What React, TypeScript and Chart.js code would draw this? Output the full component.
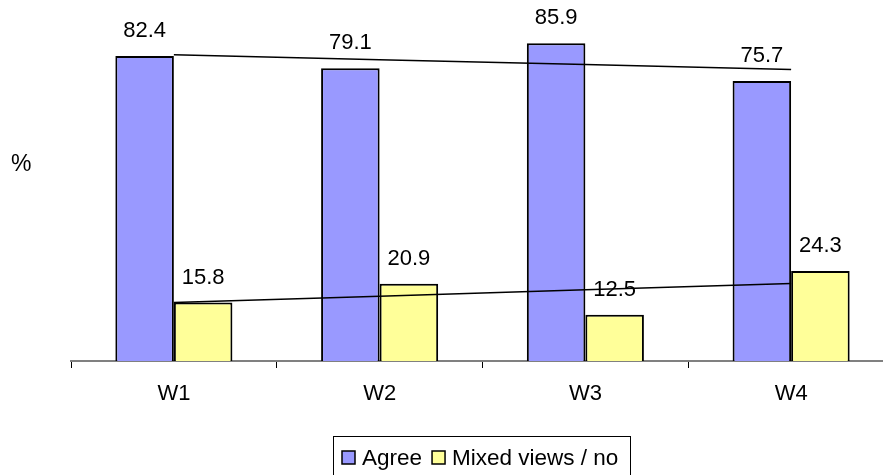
import React, { useEffect, useRef } from "react";
import { Chart, registerables } from "chart.js";

Chart.register(...registerables);

const categories = ["W1", "W2", "W3", "W4"];
const agreeValues = [82.4, 79.1, 85.9, 75.7];
const mixedValues = [15.8, 20.9, 12.5, 24.3];
const seriesNames = ["Agree", "Mixed views / no"];
const seriesColors = ["#9999FF", "#FFFF99"];
const yAxisTitle = "%";

const FONT = '"Liberation Sans", Arial, sans-serif';

// Least-squares linear trend over the category positions
function linearTrend(values: number[]): number[] {
  const n = values.length;
  const xs = values.map((_, i) => i + 1);
  const mx = xs.reduce((a, b) => a + b, 0) / n;
  const my = values.reduce((a, b) => a + b, 0) / n;
  let num = 0;
  let den = 0;
  xs.forEach((x, i) => {
    num += (x - mx) * (values[i] - my);
    den += (x - mx) * (x - mx);
  });
  const slope = num / den;
  return xs.map((x) => my + slope * (x - mx));
}

const valueLabels = {
  id: "valueLabels",
  afterDatasetsDraw(chart: any) {
    const ctx = chart.ctx;
    ctx.save();
    ctx.font = `22px ${FONT}`;
    ctx.fillStyle = "#000";
    ctx.textAlign = "center";
    ctx.textBaseline = "middle";
    chart.data.datasets.forEach((ds: any, i: number) => {
      if (ds.type !== "bar") return;
      const meta = chart.getDatasetMeta(i);
      meta.data.forEach((el: any, j: number) => {
        ctx.fillText(ds.data[j].toFixed(1), el.x, el.y - 25);
      });
    });
    ctx.restore();
  },
};

const sideTitleAndLegend = {
  id: "sideTitleAndLegend",
  afterDraw(chart: any) {
    const ctx = chart.ctx;
    ctx.save();
    ctx.fillStyle = "#000";
    ctx.font = `23px ${FONT}`;
    ctx.textAlign = "left";
    ctx.textBaseline = "middle";
    ctx.fillText(yAxisTitle, 11, 165);

    // Legend box, bottom edge runs past the canvas
    const boxLeft = 333.5;
    const boxTop = 436.5;
    const boxRight = 630.5;
    ctx.strokeStyle = "#000";
    ctx.lineWidth = 1;
    ctx.fillStyle = "#fff";
    ctx.fillRect(boxLeft, boxTop, boxRight - boxLeft, 60);
    ctx.strokeRect(boxLeft, boxTop, boxRight - boxLeft, 60);

    const rowY = 457.5;
    const swatch = 13;
    let x = 342;
    seriesNames.forEach((name, i) => {
      ctx.fillStyle = seriesColors[i];
      ctx.fillRect(x, rowY - swatch / 2, swatch, swatch);
      ctx.lineWidth = 1.5;
      ctx.strokeStyle = "#000";
      ctx.strokeRect(x, rowY - swatch / 2, swatch, swatch);
      ctx.fillStyle = "#000";
      ctx.font = `22.5px ${FONT}`;
      ctx.fillText(name, x + swatch + 7, rowY + 1);
      x += swatch + 7 + ctx.measureText(name).width + 10;
    });
    ctx.restore();
  },
};

export default function App() {
  const canvasRef = useRef<HTMLCanvasElement | null>(null);

  useEffect(() => {
    if (!canvasRef.current) return;
    const chart = new Chart(canvasRef.current, {
      type: "bar",
      data: {
        labels: categories,
        datasets: [
          {
            type: "bar",
            label: seriesNames[0],
            data: agreeValues,
            backgroundColor: seriesColors[0],
            borderColor: "#000",
            borderWidth: 2,
            order: 2,
          },
          {
            type: "bar",
            label: seriesNames[1],
            data: mixedValues,
            backgroundColor: seriesColors[1],
            borderColor: "#000",
            borderWidth: 2,
            order: 2,
          },
          {
            type: "line",
            label: "Agree trend",
            data: linearTrend(agreeValues),
            borderColor: "#000",
            borderWidth: 1.5,
            pointRadius: 0,
            fill: false,
            order: 1,
          },
          {
            type: "line",
            label: "Mixed trend",
            data: linearTrend(mixedValues),
            borderColor: "#000",
            borderWidth: 1.5,
            pointRadius: 0,
            fill: false,
            order: 1,
          },
        ] as any,
      },
      options: {
        responsive: false,
        devicePixelRatio: 1,
        animation: false,
        layout: { padding: { left: 71, right: 6, top: 28, bottom: 54 } },
        datasets: {
          bar: { categoryPercentage: 0.569, barPercentage: 1 },
        } as any,
        plugins: {
          legend: { display: false },
          tooltip: { enabled: false },
        },
        scales: {
          x: {
            offset: true,
            grid: {
              offset: true,
              drawOnChartArea: false,
              drawTicks: true,
              tickLength: 7,
              color: "#000",
              lineWidth: 1,
            },
            border: { color: "#808080", width: 2 },
            ticks: {
              color: "#000",
              font: { family: FONT, size: 22 },
              padding: 13,
              maxRotation: 0,
            },
            afterFit(scale: any) {
              scale.height = 60;
            },
          },
          y: {
            display: false,
            min: 0,
            max: 90,
          },
        },
      },
      plugins: [valueLabels, sideTitleAndLegend],
    });
    return () => chart.destroy();
  }, []);

  return (
    <div
      style={{
        position: "fixed",
        left: 0,
        top: 0,
        width: 883,
        height: 475,
        overflow: "hidden",
        background: "#fff",
      }}
    >
      <canvas
        ref={canvasRef}
        width={900}
        height={475}
        style={{ width: 900, height: 475, display: "block" }}
      />
    </div>
  );
}
